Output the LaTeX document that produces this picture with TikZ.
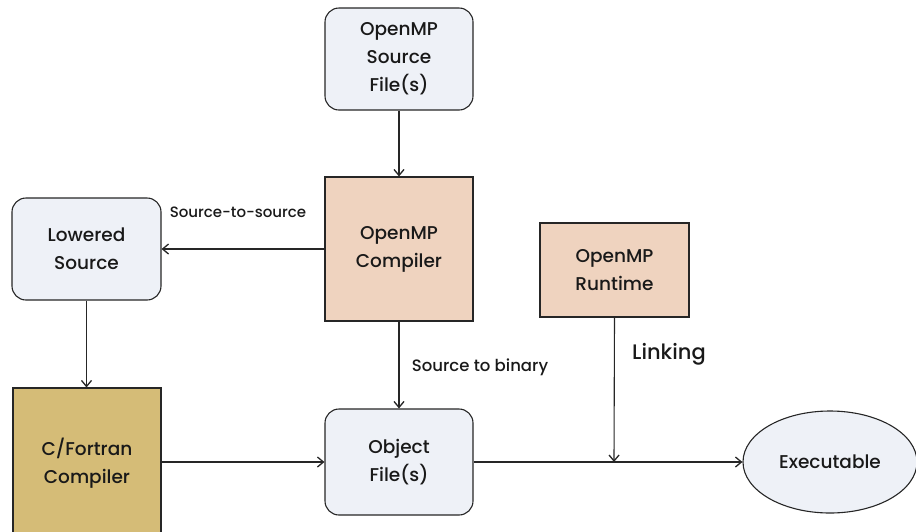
\documentclass[tikz,border=0pt]{standalone}
\usepackage{fontspec}
\setmainfont{Poppins Medium}
\usetikzlibrary{shapes.geometric,arrows.meta}
\definecolor{lightbox}{HTML}{EEF1F7}
\definecolor{peach}{HTML}{EFD3BF}
\definecolor{gold}{HTML}{D5BC77}
\tikzset{
  box/.style={draw=black!85, line width=1.1pt, minimum width=148pt, align=center, font=\fontsize{18.5}{28}\selectfont, text=black!90},
  rbox/.style={box, rounded corners=14pt, fill=lightbox},
  pbox/.style={box, fill=peach},
  conn/.style={draw=black!85, line width=1.1pt, -{Straight Barb[length=6pt,width=10pt,line width=1.3pt]}},
  lbl/.style={font=\fontsize{16.5}{19}\selectfont, text=black!90},
}
\begin{document}
\begin{tikzpicture}[x=1pt,y=-1pt]
\useasboundingbox (0,0) rectangle (916,531);
\clip (0,0) rectangle (916,531);
\node[rbox, minimum height=102pt] (src) at (399,59) {OpenMP\\Source\\File(s)};
\node[pbox, minimum height=144pt] (comp) at (399,249) {OpenMP\\Compiler};
\node[rbox, minimum width=149pt, minimum height=102pt] (low) at (86.5,249) {Lowered\\Source};
\node[pbox, minimum width=149pt, minimum height=94pt] (rt) at (614.5,270) {OpenMP\\Runtime};
\node[box, fill=gold, minimum height=160pt] (cf) at (87,468) {};
\node[align=center, font=\fontsize{18.5}{28}\selectfont, text=black!90] (cft) at (87,463) {C/Fortran\\Compiler};
\node[rbox, minimum height=106pt] (obj) at (399,462) {Object\\File(s)};
\node[ellipse, draw=black!85, line width=1.1pt, fill=lightbox, minimum width=174pt, minimum height=102pt, font=\fontsize{18.5}{28}\selectfont, text=black!90] (exe) at (830,462) {Executable};
\coordinate (link) at (614,462);

\draw[conn] (src) -- (comp);
\draw[conn] (comp.west) -- (low.east);
\node[lbl, font=\fontsize{15}{18}\selectfont] at (238,212) {Source-to-source};
\draw[conn] (low) -- (low.south |- cf.north);
\draw[conn] (comp) -- (obj);
\node[lbl] at (480,367) {Source to binary};
\draw[conn] (cf.east |- obj.west) -- (obj.west);
\draw[conn] (obj.east) -- (exe.west);
\draw[conn] (rt.south) -- (link);
\node[font=\fontsize{21}{24}\selectfont, text=black!90] at (669,354) {Linking};
\end{tikzpicture}
\end{document}
